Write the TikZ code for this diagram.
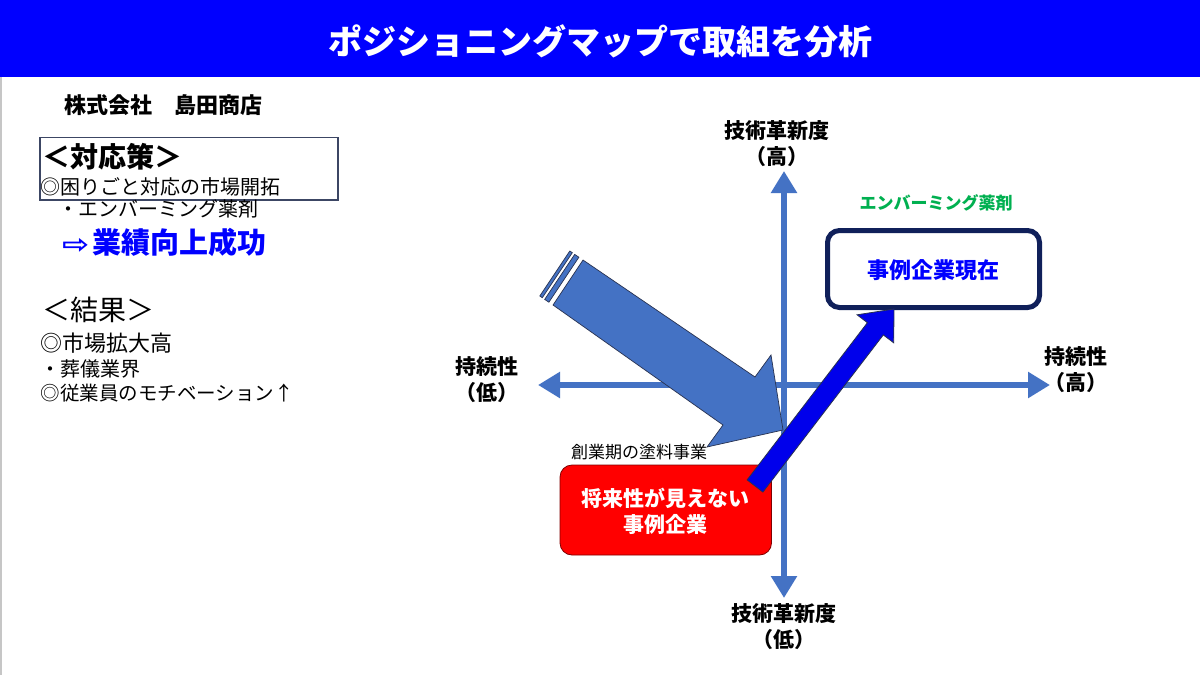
\documentclass[tikz,border=0pt]{standalone}
\usepackage{graphicx}
\usepackage{fontspec}
\setmainfont{Noto Sans CJK JP}
\newfontfamily\dv{DejaVu Sans}
\usetikzlibrary{arrows.meta}
\definecolor{titleblue}{RGB}{0,0,255}
\definecolor{steel}{RGB}{68,114,196}
\definecolor{navy}{RGB}{16,32,90}
\definecolor{boxline}{RGB}{60,70,100}
\definecolor{grn}{RGB}{0,176,80}
\definecolor{pblue}{RGB}{0,0,235}
\definecolor{outl}{RGB}{40,50,80}
\newcommand{\fsz}[2]{\fontsize{#1}{#2}\selectfont}
\begin{document}
\begin{tikzpicture}[x=1pt,y=-1pt,
  txt/.style={inner sep=0pt, anchor=west},
  axlbl/.style={inner sep=0pt, align=center, font=\fsz{21}{26}\bfseries},
  axis/.style={steel, line width=6.5pt, {Triangle[width=25pt,length=22pt]}-{Triangle[width=25pt,length=22pt]}},
  bigarrow/.style={fill=steel, draw=outl, line width=0.7pt, line join=miter},
  bluearrow/.style={fill=pblue, draw=outl, line width=0.8pt, line join=miter}]
\useasboundingbox (0,0) rectangle (1200,675);
\fill[white] (0,0) rectangle (1200,675);
% title bar
\fill[titleblue] (0,0) rectangle (1200,77);
\draw[gray!45, line width=1.5pt] (0.75,77) -- (0.75,675);
\node[inner sep=0pt, text=white, font=\fsz{34}{40}\bfseries] (title) at (600,41) {ポジショニングマップで取組を分析};
% left column
\node[txt, font=\fsz{22}{26}\bfseries] (company) at (64,105) {株式会社　島田商店};
\draw[boxline, line width=1.2pt] (40,137.5) rectangle (338,200);
\node[txt, font=\fsz{28}{32}\bfseries] (taiou) at (42,157) {＜対応策＞};
\node[txt, font=\fsz{20}{24}] (item1) at (40.5,186.5) {◎困りごと対応の市場開拓};
\node[txt, font=\fsz{20}{24}] (item2) at (58,208.5) {・エンバーミング薬剤};
\node[txt, font=\fsz{29}{34}\bfseries, text=titleblue] (seikou) at (62,242) {{\dv\fsz{26}{28}\scalebox{1.25}[1]{⇨}}\hspace{3pt}業績向上成功};
\node[txt, font=\fsz{28}{32}] (kekka) at (42,310) {＜結果＞};
\node[txt, font=\fsz{22}{26}] (res1) at (40.5,343.5) {◎市場拡大高};
\node[txt, font=\fsz{20}{24}] (res2) at (40.5,368.5) {・葬儀業界};
\node[txt, font=\fsz{19.5}{24}] (res3) at (40.5,393) {◎従業員のモチベーション↑};
% axes
\coordinate (vtop) at (784,171);
\coordinate (vbot) at (784,598);
\coordinate (hleft) at (538,385);
\coordinate (hright) at (1050,385);
\draw[axis] (vbot) -- (vtop);
\draw[axis] (hleft) -- (hright);
\node[axlbl] (toplbl) at (777,144) {技術革新度\\（高）};
\node[axlbl] (botlbl) at (784,627) {技術革新度\\（低）};
\node[axlbl] (leftlbl) at (487,380) {持続性\\（低）};
\node[axlbl] (rightlbl) at (1076,370) {持続性\\（高）};
% boxes
\node[inner sep=0pt, font=\fsz{17}{20}\bfseries, text=grn] (embalm) at (936,203) {エンバーミング薬剤};
\draw[navy, line width=5pt, rounded corners=12pt, fill=white] (827.5,230.5) rectangle (1039.5,307.5);
\node[inner sep=0pt, font=\fsz{22}{26}\bfseries, text=titleblue] (genzai) at (933,270) {事例企業現在};
\node[txt, font=\fsz{17}{20}] (sougyou) at (571,452.5) {創業期の塗料事業};
\draw[fill=red, draw=red!50!black, line width=0.8pt, rounded corners=12pt] (560,465) rectangle (771.5,555);
\node[inner sep=0pt, align=center, text=white, font=\fsz{21}{26.5}\bfseries] (redtxt) at (665,511.5) {将来性が見えない\\事例企業};
% big steel arrow
\coordinate (sT1) at (583,260);
\coordinate (sT2) at (553,305);
\coordinate (sH1) at (755,377);
\coordinate (sB1) at (771,355);
\coordinate (sP) at (783,430);
\coordinate (sB2) at (707,447);
\coordinate (sL2) at (723,425);
\draw[bigarrow] (sT1) -- (sH1) -- (sB1) -- (sP) -- (sB2) -- (sL2) -- (sT2) -- cycle;
\draw[bigarrow] (569.8,251.0) -- (572.3,252.7) -- (542.3,297.7) -- (539.8,296.0) -- cycle;
\draw[bigarrow] (574.7,254.4) -- (578.9,257.2) -- (548.9,302.2) -- (544.7,299.4) -- cycle;
% blue arrow
\coordinate (bT1) at (747.1,479.9);
\coordinate (bH1) at (867.4,322.7);
\coordinate (bB1) at (857.1,314.8);
\coordinate (bP) at (894,309);
\coordinate (bB2) at (893.7,342.8);
\coordinate (bH2) at (883.3,334.9);
\coordinate (bT2) at (762.9,492.1);
\draw[bluearrow] (bT1) -- (bH1) -- (bB1) -- (bP) -- (bB2) -- (bH2) -- (bT2) -- cycle;
\end{tikzpicture}
\end{document}
